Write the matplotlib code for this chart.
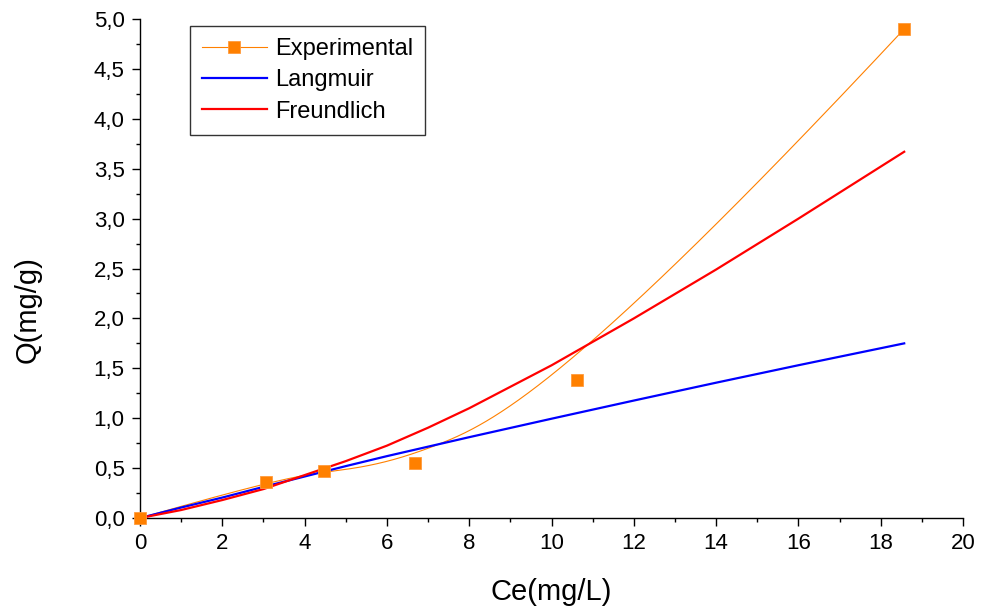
import numpy as np
import matplotlib
matplotlib.use("Agg")
import matplotlib.pyplot as plt
from matplotlib.ticker import MultipleLocator, FuncFormatter

plt.rcParams['font.family'] = ['Liberation Sans', 'DejaVu Sans']

# experimental points
ce_exp = [0.0, 3.06, 4.47, 6.69, 10.61, 18.57]
q_exp = [0.0, 0.36, 0.475, 0.55, 1.385, 4.90]

# fitted curves
ce_fit = [0, 1, 2, 3, 4, 5, 6, 7, 8, 10, 12, 14, 16, 18.57]
q_langmuir = [0, 0.105, 0.205, 0.312, 0.416, 0.52, 0.62, 0.715, 0.81, 0.995,
              1.177, 1.356, 1.531, 1.750]
q_freundlich = [0, 0.08, 0.18, 0.29, 0.43, 0.57, 0.725, 0.905, 1.10, 1.53,
                2.0, 2.49, 3.0, 3.67]


def bspline(px, py, k=3, n=400):
    """Clamped B-spline guided by the points (Origin-style B-spline connect)."""
    px = np.asarray(px, float)
    py = np.asarray(py, float)
    m = len(px)
    knots = np.concatenate([np.zeros(k), np.linspace(0, 1, m - k + 1), np.ones(k)])
    t = np.linspace(0, 1, n)
    t[-1] -= 1e-9
    B = np.zeros((len(knots) - 1, n))
    for i in range(len(knots) - 1):
        B[i] = (knots[i] <= t) & (t < knots[i + 1])
    for d in range(1, k + 1):
        Bn = np.zeros((len(knots) - 1 - d, n))
        for i in range(len(knots) - 1 - d):
            a = knots[i + d] - knots[i]
            b = knots[i + d + 1] - knots[i + 1]
            left = (t - knots[i]) / a * B[i] if a > 0 else 0
            right = (knots[i + d + 1] - t) / b * B[i + 1] if b > 0 else 0
            Bn[i] = left + right
        B = Bn
    return px @ B, py @ B


fig = plt.figure(figsize=(9.81, 6.08), dpi=100)
ax = fig.add_axes([0.1427, 0.148, 0.839, 0.8207])

orange = '#ff8000'
sx, sy = bspline(ce_exp, q_exp)
ax.plot(sx, sy, color=orange, lw=0.8, zorder=2)
ax.plot(ce_exp, q_exp, 's', color=orange, ms=8.5, mec='#ff9a3c', mew=0.6,
        zorder=4, clip_on=False)
ax.plot(ce_fit, q_langmuir, color='#0000ff', lw=1.6, zorder=3)
ax.plot(ce_fit, q_freundlich, color='#ff0000', lw=1.6, zorder=3)

# legend handles
h_exp, = ax.plot([], [], '-s', color=orange, lw=0.8, ms=8.5, mec='#ff9a3c',
                 mew=0.6, label='Experimental')
h_lan, = ax.plot([], [], color='#0000ff', lw=1.6, label='Langmuir')
h_fre, = ax.plot([], [], color='#ff0000', lw=1.6, label='Freundlich')
leg = ax.legend(handles=[h_exp, h_lan, h_fre], loc='upper left',
                bbox_to_anchor=(0.061, 0.986), fontsize=17, frameon=True,
                fancybox=False, edgecolor='black', handlelength=2.75,
                handletextpad=0.35, labelspacing=0.4, borderpad=0.5,
                borderaxespad=0)
leg.get_frame().set_linewidth(1.0)

ax.set_xlim(0, 20)
ax.set_ylim(0, 5)
ax.spines['top'].set_visible(False)
ax.spines['right'].set_visible(False)
for s in ('left', 'bottom'):
    ax.spines[s].set_linewidth(1.0)

ax.xaxis.set_major_locator(MultipleLocator(2))
ax.xaxis.set_minor_locator(MultipleLocator(1))
ax.yaxis.set_major_locator(MultipleLocator(0.5))
ax.yaxis.set_minor_locator(MultipleLocator(0.25))
ax.xaxis.set_major_formatter(FuncFormatter(lambda v, p: f"{v:g}"))
ax.yaxis.set_major_formatter(FuncFormatter(lambda v, p: f"{v:.1f}".replace('.', ',')))
ax.tick_params(which='major', direction='out', length=6, width=1.0,
               labelsize=16, pad=5)
ax.tick_params(which='minor', direction='out', length=3, width=1.0)

ax.set_xlabel('Ce(mg/L)', fontsize=21)
ax.set_ylabel('Q(mg/g)', fontsize=21)
ax.xaxis.set_label_coords(0.5, -0.12)
ax.yaxis.set_label_coords(-0.12, 0.417)

fig.savefig('out.png', dpi=100)
